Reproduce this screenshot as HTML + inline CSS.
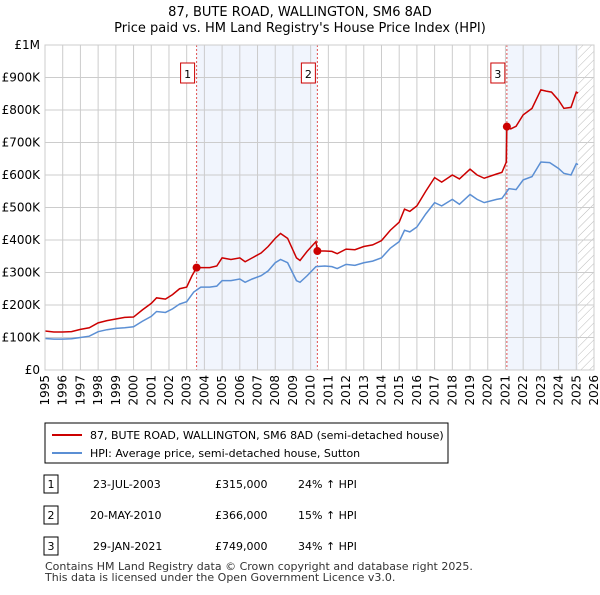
<!DOCTYPE html>
<html><head><meta charset="utf-8"><style>
body{margin:0;background:#fff;font-family:"Liberation Sans","DejaVu Sans",sans-serif;}
svg text{font-family:"DejaVu Sans","Liberation Sans",sans-serif;}
</style></head><body>
<svg width="600" height="590" viewBox="0 0 600 590" xmlns="http://www.w3.org/2000/svg">
<defs><pattern id="hatch" width="6" height="6" patternUnits="userSpaceOnUse" patternTransform="rotate(45)"><line x1="0" y1="0" x2="0" y2="6" stroke="#bbb" stroke-width="1"/></pattern></defs>
<text x="300" y="16" text-anchor="middle" font-size="13">87, BUTE ROAD, WALLINGTON, SM6 8AD</text>
<text x="300" y="32" text-anchor="middle" font-size="13">Price paid vs. HM Land Registry's House Price Index (HPI)</text>
<g id="plot"></g>
<g>
<rect x="45" y="423" width="403" height="40" fill="#fff" stroke="#000" stroke-width="1"/>
<line x1="52" y1="435" x2="82" y2="435" stroke="#cc0000" stroke-width="2"/>
<text x="90" y="439" font-size="11">87, BUTE ROAD, WALLINGTON, SM6 8AD (semi-detached house)</text>
<line x1="52" y1="453" x2="82" y2="453" stroke="#5b8fd4" stroke-width="2"/>
<text x="90" y="457" font-size="11">HPI: Average price, semi-detached house, Sutton</text>
</g>
<g font-size="11">
<rect x="44" y="475" width="14" height="18" fill="#fff" stroke="#000"/><text x="51" y="488" text-anchor="middle">1</text>
<text x="93" y="488">23-JUL-2003</text><text x="215" y="488">£315,000</text><text x="298" y="488">24% ↑ HPI</text>
<rect x="44" y="506" width="14" height="18" fill="#fff" stroke="#000"/><text x="51" y="519" text-anchor="middle">2</text>
<text x="90" y="519">20-MAY-2010</text><text x="215" y="519">£366,000</text><text x="298" y="519">15% ↑ HPI</text>
<rect x="44" y="537" width="14" height="18" fill="#fff" stroke="#000"/><text x="51" y="550" text-anchor="middle">3</text>
<text x="93" y="550">29-JAN-2021</text><text x="215" y="550">£749,000</text><text x="298" y="550">34% ↑ HPI</text>
</g>
<text x="45" y="570" font-size="11" fill="#333">Contains HM Land Registry data © Crown copyright and database right 2025.</text>
<text x="45" y="581" font-size="11" fill="#333">This data is licensed under the Open Government Licence v3.0.</text>
</svg>
<script>
const years=[1995,1996,1997,1998,1999,2000,2001,2002,2003,2004,2005,2006,2007,2008,2009,2010,2011,2012,2013,2014,2015,2016,2017,2018,2019,2020,2021,2022,2023,2024,2025,2026];
const yTicks=[0,100,200,300,400,500,600,700,800,900,1000];
const yTickLabels=["£0","£100K","£200K","£300K","£400K","£500K","£600K","£700K","£800K","£900K","£1M"];
const hpiT=[1995,1995.5,1996,1996.5,1997,1997.5,1998,1998.5,1999,1999.5,2000,2000.5,2001,2001.3,2001.8,2002.2,2002.6,2003,2003.4,2003.8,2004.3,2004.7,2005,2005.5,2006,2006.3,2006.7,2007.2,2007.6,2008,2008.3,2008.7,2009.2,2009.4,2009.8,2010.3,2010.8,2011.2,2011.5,2012,2012.5,2013,2013.5,2014,2014.5,2015,2015.3,2015.6,2016,2016.5,2017,2017.4,2018,2018.4,2019,2019.4,2019.8,2020.5,2020.8,2021.2,2021.6,2022,2022.5,2023,2023.5,2024,2024.3,2024.7,2025,2025.1];
const hpiV=[97,95,95,96,100,104,118,124,128,130,133,150,165,180,177,188,203,210,240,255,255,258,275,275,280,270,280,290,305,330,340,330,275,270,290,318,320,318,312,325,322,330,335,345,375,395,430,425,440,480,515,505,525,510,540,525,515,525,528,558,555,585,595,640,638,620,605,600,635,632];
const priceT=[1995,1995.5,1996,1996.5,1997,1997.5,1998,1998.5,1999,1999.5,2000,2000.5,2001,2001.3,2001.8,2002.2,2002.6,2003,2003.3,2003.56,2004.3,2004.7,2005,2005.5,2006,2006.3,2006.7,2007.2,2007.6,2008,2008.3,2008.7,2009.2,2009.4,2009.8,2010.3,2010.38,2010.8,2011.2,2011.5,2012,2012.5,2013,2013.5,2014,2014.5,2015,2015.3,2015.6,2016,2016.5,2017,2017.4,2018,2018.4,2019,2019.4,2019.8,2020.5,2020.8,2021.05,2021.08,2021.3,2021.6,2022,2022.5,2023,2023.3,2023.6,2024,2024.3,2024.7,2025,2025.1];
const priceV=[120,117,117,118,125,130,145,152,157,162,163,185,205,222,218,232,250,255,290,315,315,320,345,340,345,333,345,360,380,405,420,405,345,337,365,395,366,366,365,358,372,370,380,385,398,430,455,495,488,505,550,592,578,600,588,618,600,590,603,608,640,749,742,750,785,805,862,858,855,830,805,808,855,852];
const saleT=[2003.56,2010.38,2021.08];
const saleV=[315,366,749];
const saleLabels=["1","2","3"];
const NS="http://www.w3.org/2000/svg";
const X0=45,X1=594,Y0=370,Y1=45;
const sx=t=>X0+(t-1995)/(2026-1995)*(X1-X0);
const sy=v=>Y0-v/1000*(Y0-Y1);
const g=document.getElementById('plot');
function mk(tag,attrs){const e=document.createElementNS(NS,tag);for(const k in attrs)e.setAttribute(k,attrs[k]);g.appendChild(e);return e;}
// shading
let sh=mk('rect',{x:sx(saleT[0]),y:Y1,width:sx(saleT[1])-sx(saleT[0]),height:Y0-Y1,fill:'#eef3fc',opacity:0.8});


sh=mk('rect',{x:sx(saleT[2]),y:Y1,width:sx(2025.1)-sx(saleT[2]),height:Y0-Y1,fill:'#eef3fc',opacity:0.8});


let hz=mk('rect',{x:sx(2025.1),y:Y1,width:X1-sx(2025.1),height:Y0-Y1,fill:'url(#hatch)'});


// grid
years.forEach(y=>{const l=mk('line',{x1:sx(y),x2:sx(y),y1:Y1,y2:Y0,stroke:'#ccc','stroke-width':1});


const t=mk('text',{x:0,y:0,'font-size':12,'text-anchor':'end',transform:`translate(${sx(y)+4},${Y0+5}) rotate(-90)`});t.textContent=y;

});
yTicks.forEach((v,i)=>{const l=mk('line',{x1:X0,x2:X1,y1:sy(v),y2:sy(v),stroke:'#ccc','stroke-width':1});


const t=mk('text',{x:X0-5,y:sy(v)+4,'font-size':12,'text-anchor':'end'});t.textContent=yTickLabels[i];

});
// sale lines
saleT.forEach((s,i)=>{const l=mk('line',{x1:sx(s),x2:sx(s),y1:Y1,y2:Y0,stroke:'#e05050','stroke-width':1,'stroke-dasharray':'2,2'});


const r=mk('rect',{x:sx(s)-22+6,y:63,width:14,height:20,fill:'#fff',stroke:'#cc0000'});


const t=mk('text',{x:sx(s)-9,y:78,'font-size':11,'text-anchor':'middle'});t.textContent=saleLabels[i];

});
function line(T,V,c,n){const p=mk('polyline',{points:T.map((t,i)=>sx(t)+','+sy(V[i])).join(' '),fill:'none',stroke:c,'stroke-width':1.5});

}
line(hpiT,hpiV,'#5b8fd4','hpi-line');
line(priceT,priceV,'#cc0000','price-line');
saleT.forEach((s,i)=>{const c=mk('circle',{cx:sx(s),cy:sy(saleV[i]),r:4,fill:'#cc0000'});

});
const ax=mk('rect',{x:X0,y:Y1,width:X1-X0,height:Y0-Y1,fill:'none',stroke:'#ccc'});


</script>
</body></html>
